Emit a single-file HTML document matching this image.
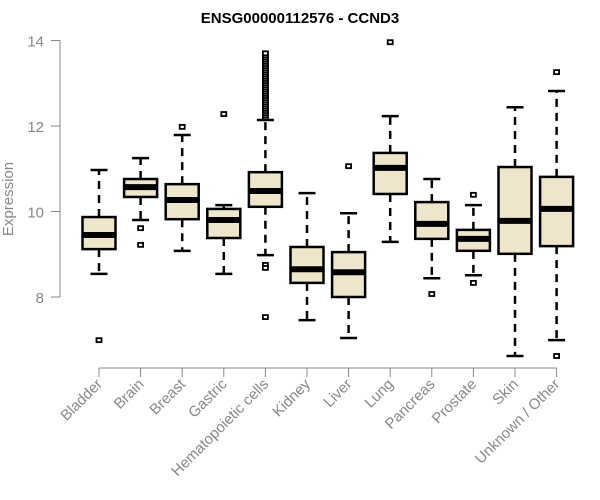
<!DOCTYPE html>
<html><head><meta charset="utf-8"><style>body{margin:0;background:#fff}svg{display:block}</style></head>
<body>
<svg id="chart" width="600" height="500" xmlns="http://www.w3.org/2000/svg" font-family="Liberation Sans, sans-serif">
<text x="300" y="23" text-anchor="middle" font-weight="bold" font-size="15">ENSG00000112576 - CCND3</text>
<text transform="translate(13,199) rotate(-90)" text-anchor="middle" font-size="15" fill="#888">Expression</text>
<g id="axes"></g><g id="marks"></g>
</svg>
<script>
const categories=["Bladder","Brain","Breast","Gastric","Hematopoietic cells","Kidney","Liver","Lung","Pancreas","Prostate","Skin","Unknown / Other"];
const whiskerLow=[8.54,9.80,9.08,8.54,8.98,7.46,7.04,9.29,8.44,8.51,6.62,6.99];
const q1=[9.12,10.34,9.82,9.38,10.11,8.33,8.00,10.41,9.36,9.08,9.01,9.19];
const median=[9.45,10.57,10.27,9.80,10.48,8.65,8.58,11.02,9.71,9.36,9.78,10.06];
const q3=[9.87,10.76,10.64,10.06,10.92,9.17,9.05,11.37,10.22,9.57,11.04,10.81];
const whiskerHigh=[10.97,11.25,11.79,10.15,12.14,10.43,9.96,12.23,10.76,10.15,12.44,12.82];
const outliers=[[6.99],[9.61,9.22],[11.98],[12.28],
[12.2,12.25,12.3,12.35,12.4,12.45,12.5,12.55,12.6,12.65,12.7,12.75,12.8,12.85,12.9,12.95,13.0,13.05,13.1,13.15,13.2,13.25,13.3,13.35,13.4,13.45,13.5,13.55,13.6,13.65,13.7,8.75,8.68,7.53],
[],[11.06],[13.96],[8.07],[10.39,8.33],[],[13.26,6.62]];
const yTicks=[8,10,12,14];
const NS="http://www.w3.org/2000/svg";
const y=v=>297-(v-8)*42.75;
const x=i=>99+i*41.6;
function mk(p,t,a){const e=document.createElementNS(NS,t);for(const k in a)e.setAttribute(k,a[k]);p.appendChild(e);return e;}
const ax=document.getElementById('axes'),mg=document.getElementById('marks');
let l=mk(ax,'line',{x1:60,x2:60,y1:y(14),y2:y(8),stroke:'#888'});


yTicks.forEach(t=>{
 const tk=mk(ax,'line',{x1:51,x2:60,y1:y(t),y2:y(t),stroke:'#888'});
 
 
 const tx=mk(ax,'text',{x:44,y:y(t)+6,'text-anchor':'end','font-size':15,fill:'#888'});tx.textContent=t;
 
 
});
l=mk(ax,'line',{x1:x(0),x2:x(categories.length-1),y1:368,y2:368,stroke:'#888'});


categories.forEach((c,i)=>{
 const cx=x(i);
 const tk=mk(ax,'line',{x1:cx,x2:cx,y1:368,y2:377,stroke:'#888'});
 
 
 const tx=mk(ax,'text',{transform:`translate(${cx+4},385) rotate(-45)`,'text-anchor':'end','font-size':15,fill:'#888'});tx.textContent=c;
 
 
 const g=mk(mg,'g',{});
 
 
 const d={stroke:'#000','stroke-width':2.5,'stroke-dasharray':'8,6'};
 mk(g,'line',Object.assign({x1:cx,x2:cx,y1:y(q3[i]),y2:y(whiskerHigh[i])},d));
 mk(g,'line',Object.assign({x1:cx,x2:cx,y1:y(q1[i]),y2:y(whiskerLow[i])},d));
 mk(g,'line',{x1:cx-8.5,x2:cx+8.5,y1:y(whiskerHigh[i]),y2:y(whiskerHigh[i]),stroke:'#000','stroke-width':2.5});
 mk(g,'line',{x1:cx-8.5,x2:cx+8.5,y1:y(whiskerLow[i]),y2:y(whiskerLow[i]),stroke:'#000','stroke-width':2.5});
 mk(g,'rect',{x:cx-16.5,y:y(q3[i]),width:33,height:y(q1[i])-y(q3[i]),fill:'#ede6cc',stroke:'#000','stroke-width':2.5});
 mk(g,'line',{x1:cx-16.5,x2:cx+16.5,y1:y(median[i]),y2:y(median[i]),stroke:'#000','stroke-width':6});
 outliers[i].forEach(o=>{
  const p=mk(g,'rect',{x:cx-2.5,y:y(o)-2,width:5,height:4,fill:'#fff',stroke:'#000','stroke-width':1.8});
  
  
 });
});
</script>
</body></html>
